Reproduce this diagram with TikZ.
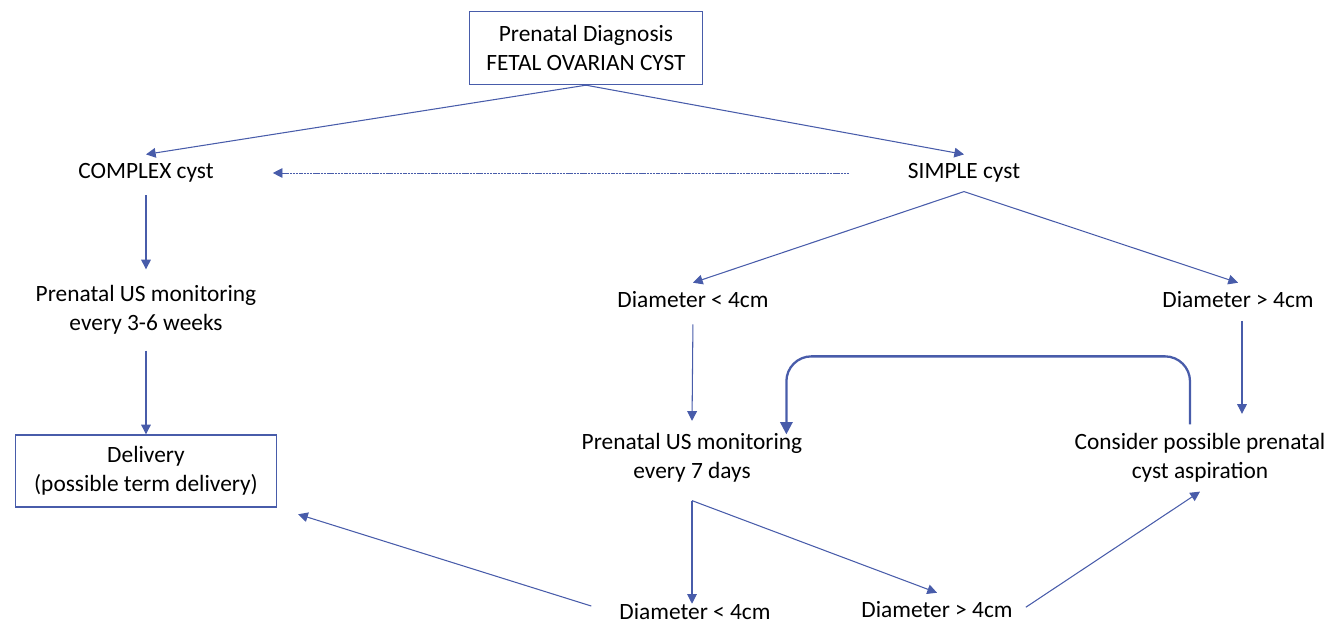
\documentclass[tikz,border=0pt]{standalone}
\usepackage{fontspec}
\setmainfont{Carlito}
\usetikzlibrary{arrows.meta}
\definecolor{flowblue}{RGB}{72,92,170}

\begin{document}
\begin{tikzpicture}[
    x=0.02cm, y=-0.02cm,
    every node/.style={font=\fontsize{13.3}{16.5}\selectfont, align=center, inner sep=5pt},
    box/.style={draw=flowblue, line width=0.8pt},
    link/.style={draw=flowblue, line width=0.6pt, -{Triangle[length=5.5pt,width=5.5pt]}},
    bold link/.style={draw=flowblue, line width=1.3pt, -{Triangle[length=7pt,width=7pt]}},
    dotlink/.style={draw=flowblue, line width=0.5pt, dash pattern=on 1.2pt off 0.4pt, -{Triangle[length=5.5pt,width=5.5pt]}}
]
    \useasboundingbox (0,0) rectangle (1336,624);

    \node[box, minimum width=4.66cm, minimum height=1.46cm] at (586,48) (diag) {Prenatal Diagnosis\\FETAL OVARIAN CYST};
    \node at (146,173) (complex) {COMPLEX cyst};
    \node at (964,173) (simple) {SIMPLE cyst};
    \node at (146,310) (mon36) {Prenatal US monitoring\\every 3-6 weeks};
    \node[box, minimum width=5.22cm, minimum height=1.44cm] at (146,471) (delivery) {Delivery\\(possible term delivery)};
    \node at (693,300) (dlt) {Diameter < 4cm};
    \node at (1238,300) (dgt) {Diameter > 4cm};
    \node at (692,458) (mon7) {Prenatal US monitoring\\every 7 days};
    \node at (1200,458) (asp) {Consider possible prenatal\\cyst aspiration};
    \node at (695,612) (blt) {Diameter < 4cm};
    \node at (937,610) (bgt) {Diameter > 4cm};

    % first split
    \draw[link] (diag.south) -- (complex.north);
    \draw[link] (diag.south) -- (simple.north);
    \draw[dotlink, shorten <=1cm, shorten >=1cm] (simple.west) -- (complex.east);

    % complex branch
    \draw[link, shorten <=2pt, shorten >=4pt] (complex.south) -- (mon36.north);
    \draw[link, shorten <=4pt] (mon36.south) -- (delivery.north);

    % simple branch
    \draw[link] (simple.south) -- (dlt.north);
    \draw[link] (simple.south) -- (dgt.north);
    \draw[link, shorten <=4pt, shorten >=2pt] (dlt.south) -- (mon7.north);
    \draw[link, shorten <=2pt, shorten >=6pt] ([xshift=0.08cm]dgt.south) -- ([xshift=0.08cm]dgt.south |- asp.north);
    \draw[bold link, rounded corners=0.5cm] ([xshift=-0.2cm]asp.north) -- ++(0,-68) -| ([xshift=-0.5cm,yshift=-0.2cm]mon7.north east);

    % follow-up
    \draw[link] ([yshift=-0.18cm]mon7.south) -- ([yshift=-0.18cm]mon7.south |- blt.north);
    \draw[link] ([yshift=-0.18cm]mon7.south) -- (bgt.north);
    \draw[link, shorten <=0.4cm, shorten >=0.44cm] (blt.west) -- (delivery.south east);
    \draw[link, shorten <=0.1cm] (bgt.east) -- (asp.south);
\end{tikzpicture}
\end{document}
